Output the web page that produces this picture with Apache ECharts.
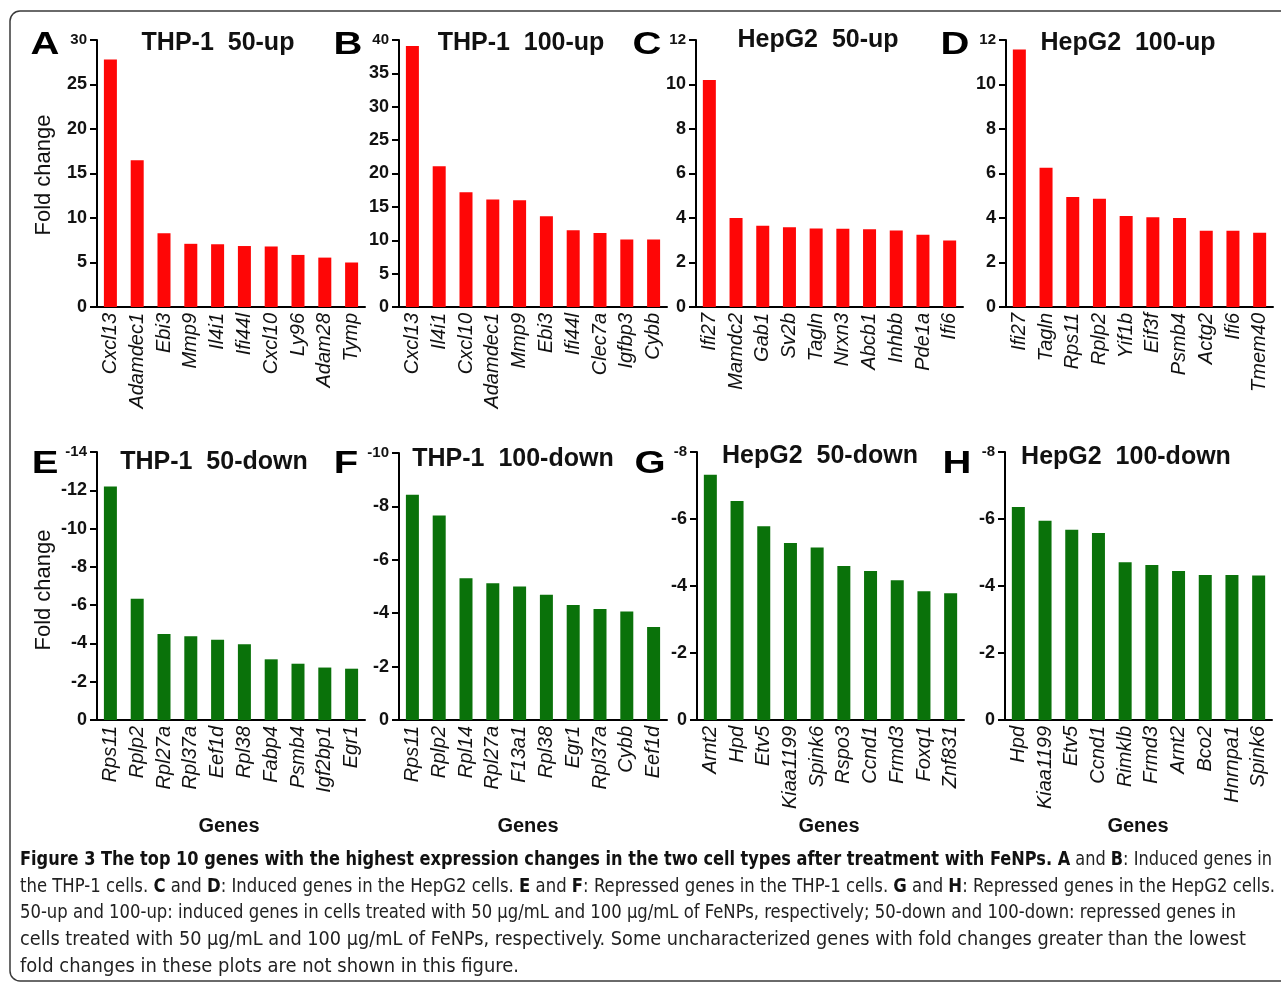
<!DOCTYPE html>
<html>
<head>
<meta charset="utf-8">
<title>Top 10 genes with the highest expression changes</title>
<script src="https://cdn.jsdelivr.net/npm/echarts@6/dist/echarts.min.js"></script>
<style>
  html, body { margin: 0; padding: 0; background: #ffffff; }
  #chart { width: 1281px; height: 984px; }
</style>
</head>
<body>
<div id="chart"></div>
<script>
// ---- Data: fold change of the top 10 genes per condition ----
const genesA = ['Cxcl13', 'Adamdec1', 'Ebi3', 'Mmp9', 'Il4i1', 'Ifi44l', 'Cxcl10', 'Ly96', 'Adam28', 'Tymp'];
const foldA  = [27.8, 16.5, 8.3, 7.1, 7.05, 6.85, 6.8, 5.85, 5.55, 5.0];

const genesB = ['Cxcl13', 'Il4i1', 'Cxcl10', 'Adamdec1', 'Mmp9', 'Ebi3', 'Ifi44l', 'Clec7a', 'Igfbp3', 'Cybb'];
const foldB  = [39.1, 21.1, 17.2, 16.1, 16.0, 13.6, 11.5, 11.1, 10.1, 10.1];

const genesC = ['Ifi27', 'Mamdc2', 'Gab1', 'Sv2b', 'Tagln', 'Nrxn3', 'Abcb1', 'Inhbb', 'Pde1a', 'Ifi6'];
const foldC  = [10.2, 4.0, 3.65, 3.58, 3.53, 3.52, 3.49, 3.44, 3.25, 2.99];

const genesD = ['Ifi27', 'Tagln', 'Rps11', 'Rplp2', 'Yif1b', 'Eif3f', 'Psmb4', 'Actg2', 'Ifi6', 'Tmem40'];
const foldD  = [11.57, 6.26, 4.94, 4.87, 4.09, 4.03, 4.0, 3.43, 3.43, 3.34];

const genesE = ['Rps11', 'Rplp2', 'Rpl27a', 'Rpl37a', 'Eef1d', 'Rpl38', 'Fabp4', 'Psmb4', 'Igf2bp1', 'Egr1'];
const foldE  = [-12.2, -6.34, -4.49, -4.37, -4.19, -3.96, -3.17, -2.94, -2.74, -2.68];

const genesF = ['Rps11', 'Rplp2', 'Rpl14', 'Rpl27a', 'F13a1', 'Rpl38', 'Egr1', 'Rpl37a', 'Cybb', 'Eef1d'];
const foldF  = [-8.44, -7.66, -5.31, -5.12, -5.0, -4.69, -4.31, -4.16, -4.06, -3.48];

const genesG = ['Arnt2', 'Hpd', 'Etv5', 'Kiaa1199', 'Spink6', 'Rspo3', 'Ccnd1', 'Frmd3', 'Foxq1', 'Znf831'];
const foldG  = [-7.32, -6.54, -5.78, -5.28, -5.15, -4.60, -4.45, -4.17, -3.84, -3.78];

const genesH = ['Hpd', 'Kiaa1199', 'Etv5', 'Ccnd1', 'Rimklb', 'Frmd3', 'Arnt2', 'Bco2', 'Hnrnpa1', 'Spink6'];
const foldH  = [-6.36, -5.95, -5.68, -5.58, -4.71, -4.63, -4.45, -4.33, -4.33, -4.31];

// Panel letters and titles
const letters = ['A', 'B', 'C', 'D', 'E', 'F', 'G', 'H'];
const titles  = ['THP-1  50-up', 'THP-1  100-up', 'HepG2  50-up', 'HepG2  100-up',
                 'THP-1  50-down', 'THP-1  100-down', 'HepG2  50-down', 'HepG2  100-down'];

// Value-axis ranges [min, max, interval]
const rangeA = [0, 30, 5];
const rangeB = [0, 40, 5];
const rangeC = [0, 12, 2];
const rangeD = [0, 12, 2];
const rangeE = [-14, 0, 2];
const rangeF = [-10, 0, 2];
const rangeG = [-8, 0, 2];
const rangeH = [-8, 0, 2];

const captionLines = [
  '{b|Figure 3 The top 10 genes with the highest expression changes in the two cell types after treatment with FeNPs. A} and {b|B}: Induced genes in',
  'the THP-1 cells. {b|C} and {b|D}: Induced genes in the HepG2 cells. {b|E} and {b|F}: Repressed genes in the THP-1 cells. {b|G} and {b|H}: Repressed genes in the HepG2 cells.',
  '50-up and 100-up: induced genes in cells treated with 50 μg/mL and 100 μg/mL of FeNPs, respectively; 50-down and 100-down: repressed genes in',
  'cells treated with 50 μg/mL and 100 μg/mL of FeNPs, respectively. Some uncharacterized genes with fold changes greater than the lowest',
  'fold changes in these plots are not shown in this figure.'
];

// ---- Layout ----
const panels = [
  { genes: genesA, fold: foldA, range: rangeA, up: true },
  { genes: genesB, fold: foldB, range: rangeB, up: true },
  { genes: genesC, fold: foldC, range: rangeC, up: true },
  { genes: genesD, fold: foldD, range: rangeD, up: true },
  { genes: genesE, fold: foldE, range: rangeE, up: false },
  { genes: genesF, fold: foldF, range: rangeF, up: false },
  { genes: genesG, fold: foldG, range: rangeG, up: false },
  { genes: genesH, fold: foldH, range: rangeH, up: false }
];

const gridBoxes = [
  { left: 97,   top: 40,  width: 268, height: 267 },
  { left: 399,  top: 40,  width: 268, height: 267 },
  { left: 696,  top: 40,  width: 267, height: 267 },
  { left: 1006, top: 40,  width: 267, height: 267 },
  { left: 97,   top: 452, width: 268, height: 268 },
  { left: 399,  top: 453, width: 268, height: 267 },
  { left: 697,  top: 452, width: 267, height: 268 },
  { left: 1005, top: 452, width: 267, height: 268 }
];
const letterPos = [[45, 45], [348, 45], [647, 45], [955, 45], [45, 464], [346, 464], [650, 464], [957, 464]];
const titlePos  = [[218, 43], [521, 43], [818, 40], [1128, 43], [214, 462], [513, 459], [820, 456], [1126, 457]];
const genesPos  = [229, 528, 829, 1138];

const RED = '#fe0606';
const GREEN = '#0a720a';
const FONT = '"Liberation Sans", Arial, sans-serif';

const grid = [], xAxis = [], yAxis = [], series = [];
panels.forEach(function (p, i) {
  grid.push(Object.assign({ containLabel: false }, gridBoxes[i]));
  xAxis.push({
    type: 'category',
    gridIndex: i,
    data: p.genes,
    axisLine: { show: true, onZero: false, lineStyle: { color: '#000', width: 2 } },
    axisTick: { show: false },
    axisLabel: {
      interval: 0, rotate: 90, margin: 6,
      fontFamily: FONT, fontSize: 20, fontStyle: 'italic', color: '#111'
    }
  });
  const top = p.up ? p.range[1] : p.range[0];
  yAxis.push({
    type: 'value',
    gridIndex: i,
    min: p.range[0], max: p.range[1], interval: p.range[2],
    inverse: !p.up,
    splitLine: { show: false },
    axisLine: { show: true, lineStyle: { color: '#000', width: 2 } },
    axisTick: { show: true, length: 7, lineStyle: { color: '#000', width: 2 } },
    axisLabel: {
      margin: 10, fontFamily: FONT, fontSize: 18, fontWeight: 'bold', color: '#111',
      formatter: function (v) { return v === top ? '{s|' + v + '}' : String(v); },
      rich: { s: { fontFamily: FONT, fontSize: 15, fontWeight: 'bold', color: '#111' } }
    }
  });
  series.push({
    type: 'bar',
    xAxisIndex: i, yAxisIndex: i,
    data: p.fold,
    barWidth: 13,
    itemStyle: { color: p.up ? RED : GREEN },
    silent: true,
    animation: false
  });
});

// ---- Text decorations ----
const graphic = [];
graphic.push({
  type: 'rect', z: -1,
  shape: { x: 10, y: 11, width: 1300, height: 970, r: 10 },
  style: { fill: 'none', stroke: '#3a3a3a', lineWidth: 1.5 }
});
letters.forEach(function (l, i) {
  graphic.push({
    type: 'text', x: letterPos[i][0], y: letterPos[i][1], scaleX: 1.25,
    style: { text: l, font: 'bold 32px ' + FONT, fill: '#000', align: 'center', verticalAlign: 'middle' }
  });
});
titles.forEach(function (t, i) {
  graphic.push({
    type: 'text', x: titlePos[i][0], y: titlePos[i][1],
    style: { text: t, font: 'bold 25px ' + FONT, fill: '#111', align: 'center', verticalAlign: 'middle' }
  });
});
[[44, 175], [44, 590]].forEach(function (pos) {
  graphic.push({
    type: 'text', x: pos[0], y: pos[1], rotation: Math.PI / 2,
    style: { text: 'Fold change', font: '22px ' + FONT, fill: '#111', align: 'center', verticalAlign: 'middle' }
  });
});
genesPos.forEach(function (x) {
  graphic.push({
    type: 'text', x: x, y: 826,
    style: { text: 'Genes', font: 'bold 20px ' + FONT, fill: '#111', align: 'center', verticalAlign: 'middle' }
  });
});

// Caption lines, each stretched horizontally to its measured line width
const CAP_FONT = '"Liberation Sans Narrow", "Arial Narrow", "DejaVu Sans Condensed", sans-serif';
const CAP_SIZE = 19;
const capEnds = [1272, 1275, 1236, 1246, 519];
const capY = [860, 887, 913, 940, 967];
const measureCtx = document.createElement('canvas').getContext('2d');
function lineWidth(line) {
  let w = 0;
  const re = /\{b\|([^}]*)\}|([^{]+)/g;
  let m;
  while ((m = re.exec(line)) !== null) {
    if (m[1] !== undefined) {
      measureCtx.font = 'bold ' + CAP_SIZE + 'px ' + CAP_FONT;
      w += measureCtx.measureText(m[1]).width;
    } else {
      measureCtx.font = CAP_SIZE + 'px ' + CAP_FONT;
      w += measureCtx.measureText(m[2]).width;
    }
  }
  return w;
}
captionLines.forEach(function (line, i) {
  const target = capEnds[i] - 20;
  const sx = target / lineWidth(line);
  graphic.push({
    type: 'text', x: 20, y: capY[i], scaleX: sx, scaleY: 1,
    style: {
      text: line, fill: '#222', align: 'left', verticalAlign: 'middle',
      fontFamily: CAP_FONT, fontSize: CAP_SIZE,
      rich: { b: { fontFamily: CAP_FONT, fontSize: CAP_SIZE, fontWeight: 'bold', fill: '#111' } }
    }
  });
});

const chart = echarts.init(document.getElementById('chart'), null, { renderer: 'canvas' });
chart.setOption({
  backgroundColor: '#ffffff',
  animation: false,
  grid: grid,
  xAxis: xAxis,
  yAxis: yAxis,
  series: series,
  graphic: graphic
});
</script>
</body>
</html>
